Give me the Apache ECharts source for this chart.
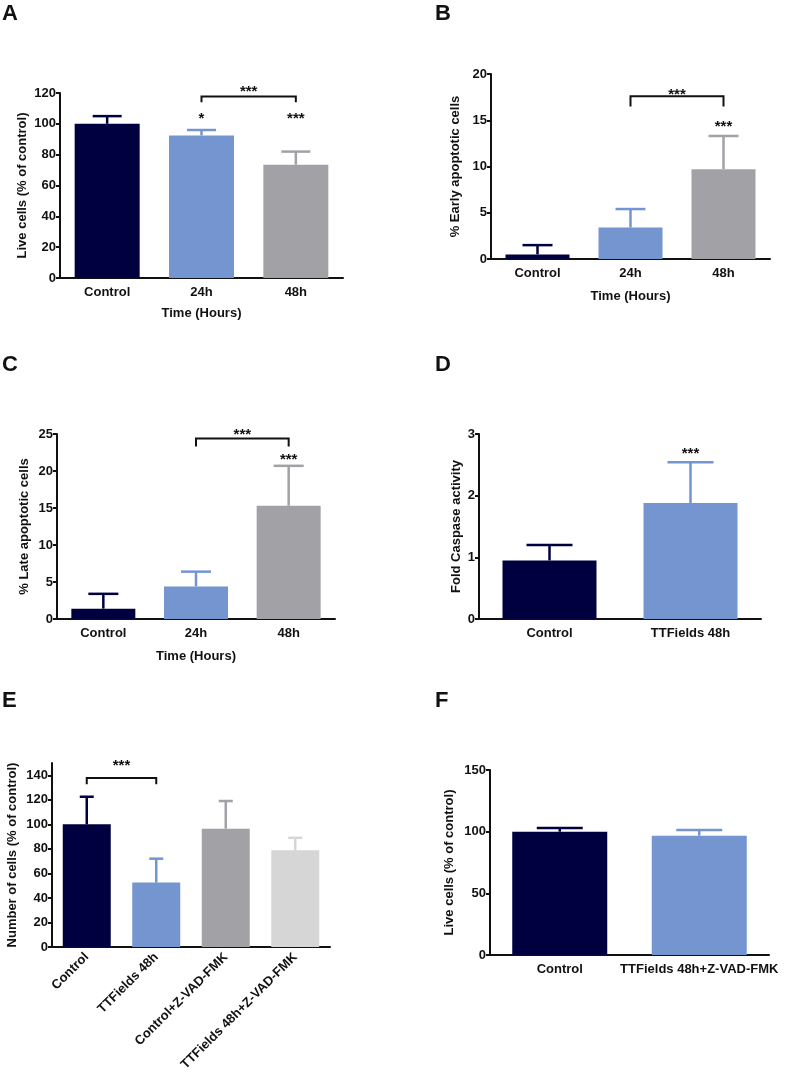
<!DOCTYPE html>
<html><head><meta charset="utf-8">
<script src="https://cdn.jsdelivr.net/npm/echarts@6/dist/echarts.min.js"></script>
<style>html,body{margin:0;padding:0;background:#fff}#c{width:787px;height:1074px}</style>
</head><body><div id="c"></div>
<script>
// ---- data ----
const catsA = ['Control', '24h', '48h'];
const meanA = [100, 92.5, 73.5];
const errA = [5, 3.5, 8.5];
const sigA = [[1, 105.8, '*'], [2, 105.8, '***']];
const bracketA = [[1, 2, 117.8, 114.0, 123.4, '***']];
const ticksA = [0, 20, 40, 60, 80, 100, 120];

const catsB = ['Control', '24h', '48h'];
const meanB = [0.5, 3.4, 9.7];
const errB = [1.0, 2.0, 3.6];
const sigB = [[2, 14.7, '***']];
const bracketB = [[1, 2, 17.6, 16.5, 18.2, '***']];
const ticksB = [0, 5, 10, 15, 20];

const catsC = ['Control', '24h', '48h'];
const meanC = [1.4, 4.4, 15.3];
const errC = [2.0, 2.0, 5.4];
const sigC = [[2, 22.0, '***']];
const bracketC = [[1, 2, 24.4, 23.3, 25.4, '***']];
const ticksC = [0, 5, 10, 15, 20, 25];

const catsD = ['Control', 'TTFields 48h'];
const meanD = [0.95, 1.88];
const errD = [0.25, 0.66];
const sigD = [[1, 2.75, '***']];
const bracketD = [];
const ticksD = [0, 1, 2, 3];

const catsE = ['Control', 'TTFields 48h', 'Control+Z-VAD-FMK', 'TTFields 48h+Z-VAD-FMK'];
const meanE = [100, 52.5, 96.5, 78.8];
const errE = [22.5, 19.5, 22.5, 10.2];
const sigE = [];
const bracketE = [[0, 1, 137.8, 132.6, 150.8, '***']];
const ticksE = [0, 20, 40, 60, 80, 100, 120, 140];

const catsF = ['Control', 'TTFields 48h+Z-VAD-FMK'];
const meanF = [100, 96.7];
const errF = [3.0, 4.7];
const sigF = [];
const bracketF = [];
const ticksF = [0, 50, 100, 150];

// ---- style / layout ----
const FONT = '"Liberation Sans", Arial, Helvetica, sans-serif';
const INK = '#111';
const COLORS = ['#000040', '#7595d0', '#a2a1a6', '#d6d6d6'];

const panels = [
  {letter: 'A', lx: 2, ly: 3, cats: catsA, mean: meanA, err: errA, sig: sigA, br: bracketA, ticks: ticksA,
   grid: {left: 60, top: 93, width: 283, height: 185}, max: 120, barW: 65, cap: 29,
   yName: 'Live cells (% of control)', yGap: 31, xName: 'Time (Hours)', xGap: 29, rot: 0},
  {letter: 'B', lx: 435, ly: 3, cats: catsB, mean: meanB, err: errB, sig: sigB, br: bracketB, ticks: ticksB,
   grid: {left: 491, top: 74, width: 279, height: 185}, max: 20, barW: 64, cap: 30,
   yName: '% Early apoptotic cells', yGap: 29, xName: 'Time (Hours)', xGap: 31, rot: 0},
  {letter: 'C', lx: 2, ly: 354, cats: catsC, mean: meanC, err: errC, sig: sigC, br: bracketC, ticks: ticksC,
   grid: {left: 57, top: 434, width: 278, height: 185}, max: 25, barW: 64, cap: 30,
   yName: '% Late apoptotic cells', yGap: 26, xName: 'Time (Hours)', xGap: 31, rot: 0},
  {letter: 'D', lx: 435, ly: 354, cats: catsD, mean: meanD, err: errD, sig: sigD, br: bracketD, ticks: ticksD,
   grid: {left: 479, top: 434, width: 282, height: 185}, max: 3, barW: 94, cap: 46,
   yName: 'Fold Caspase activity', yGap: 16, xName: '', xGap: 30, rot: 0},
  {letter: 'E', lx: 2, ly: 690, cats: catsE, mean: meanE, err: errE, sig: sigE, br: bracketE, ticks: ticksE,
   grid: {left: 52, top: 763, width: 278, height: 184}, max: 150, barW: 48, cap: 14,
   yName: 'Number of cells (% of control)', yGap: 33, xName: '', xGap: 30, rot: 45},
  {letter: 'F', lx: 435, ly: 690, cats: catsF, mean: meanF, err: errF, sig: sigF, br: bracketF, ticks: ticksF,
   grid: {left: 490, top: 770, width: 279, height: 185}, max: 150, barW: 95, cap: 46,
   yName: 'Live cells (% of control)', yGap: 34, xName: '', xGap: 30, rot: 0}
];

const option = {
  animation: false,
  backgroundColor: '#fff',
  textStyle: {fontFamily: FONT},
  title: [], grid: [], xAxis: [], yAxis: [], series: []
};

panels.forEach((p, i) => {
  option.title.push({text: p.letter, left: p.lx, top: p.ly, padding: 0,
    textStyle: {fontSize: 22, fontWeight: 'bold', color: INK, fontFamily: FONT}});
  option.grid.push(Object.assign({outerBoundsMode: 'none', containLabel: false}, p.grid));
  option.xAxis.push({
    type: 'category', gridIndex: i, data: p.cats,
    name: p.xName, nameLocation: 'middle', nameGap: p.xGap,
    nameTextStyle: {fontSize: 13, fontWeight: 'bold', color: INK, fontFamily: FONT},
    axisLine: {lineStyle: {color: INK, width: 2}},
    axisTick: {alignWithLabel: true, length: 4, lineStyle: {color: INK, width: 2}},
    axisLabel: {fontSize: 13, fontWeight: 'bold', color: INK, margin: 8, rotate: p.rot, interval: 0, fontFamily: FONT}
  });
  option.yAxis.push({
    type: 'value', gridIndex: i, min: 0, max: p.max,
    interval: p.ticks[1] - p.ticks[0],
    name: p.yName, nameLocation: 'middle', nameGap: p.yGap, nameRotate: 90,
    nameTextStyle: {fontSize: 13, fontWeight: 'bold', color: INK, fontFamily: FONT},
    splitLine: {show: false},
    axisLine: {show: true, lineStyle: {color: INK, width: 2}},
    axisTick: {show: true, length: 4, lineStyle: {color: INK, width: 2}, customValues: p.ticks},
    axisLabel: {fontSize: 13, fontWeight: 'bold', color: INK, margin: 4, customValues: p.ticks, fontFamily: FONT}
  });
  // bars
  option.series.push({
    type: 'bar', xAxisIndex: i, yAxisIndex: i, barWidth: p.barW,
    data: p.mean.map((v, k) => ({value: v, itemStyle: {color: COLORS[k]}})),
    z: 2
  });
  // error bars (upper only)
  option.series.push({
    type: 'custom', xAxisIndex: i, yAxisIndex: i, z: 3,
    data: p.mean.map((v, k) => [k, v, v + p.err[k]]),
    renderItem: (params, api) => {
      const k = params.dataIndex;
      const lo = api.coord([k, api.value(1)]);
      const hi = api.coord([k, api.value(2)]);
      const col = COLORS[k];
      return {type: 'group', children: [
        {type: 'line', shape: {x1: lo[0], y1: lo[1], x2: hi[0], y2: hi[1]}, style: {stroke: col, lineWidth: 2.5}},
        {type: 'line', shape: {x1: hi[0] - p.cap / 2, y1: hi[1], x2: hi[0] + p.cap / 2, y2: hi[1]}, style: {stroke: col, lineWidth: 2.5}}
      ]};
    }
  });
  // single significance marks
  if (p.sig.length) option.series.push({
    type: 'custom', xAxisIndex: i, yAxisIndex: i, z: 4,
    data: p.sig.map(d => [d[0], d[1]]),
    renderItem: (params, api) => {
      const d = p.sig[params.dataIndex];
      const c = api.coord([d[0], d[1]]);
      return {type: 'text', x: c[0], y: c[1] + 4,
        style: {text: d[2], fill: INK, font: 'bold 15px ' + FONT, align: 'center', verticalAlign: 'middle'}};
    }
  });
  // brackets
  if (p.br.length) option.series.push({
    type: 'custom', xAxisIndex: i, yAxisIndex: i, z: 4,
    data: p.br.map(d => [d[0], d[2]]),
    renderItem: (params, api) => {
      const d = p.br[params.dataIndex];
      const a = api.coord([d[0], d[2]]);
      const b = api.coord([d[1], d[2]]);
      const t = api.coord([d[0], d[3]]);
      const s = api.coord([d[0], d[4]]);
      return {type: 'group', children: [
        {type: 'polyline', shape: {points: [[a[0], t[1]], [a[0], a[1]], [b[0], b[1]], [b[0], t[1]]]},
         style: {stroke: INK, lineWidth: 2, fill: null}},
        {type: 'text', x: (a[0] + b[0]) / 2, y: s[1] + 4,
         style: {text: d[5], fill: INK, font: 'bold 15px ' + FONT, align: 'center', verticalAlign: 'middle'}}
      ]};
    }
  });
});

const chart = echarts.init(document.getElementById('c'), null, {renderer: 'canvas'});
chart.setOption(option);
</script>
</body></html>
